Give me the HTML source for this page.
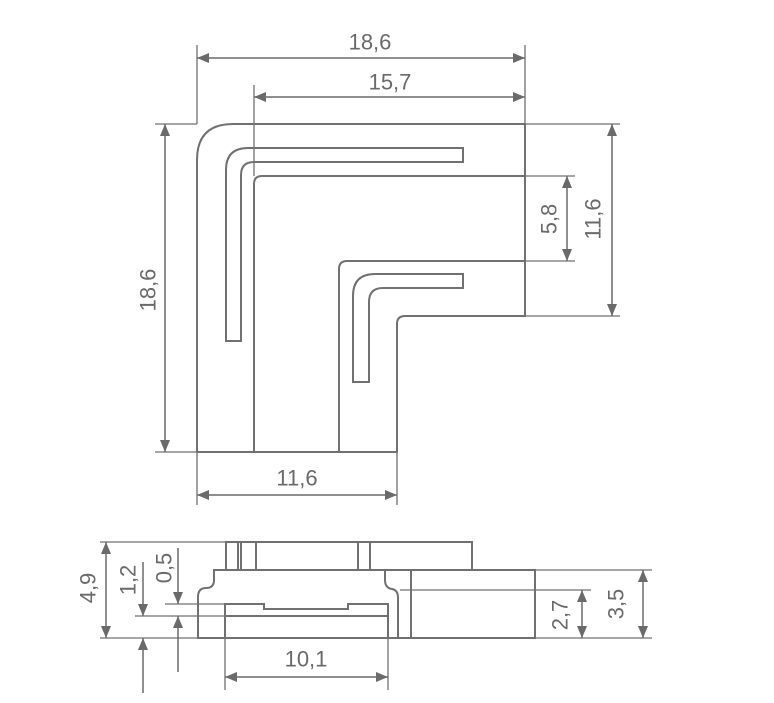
<!DOCTYPE html>
<html><head><style>
html,body{margin:0;padding:0;background:#fff;}
svg{display:block;}
text{font-family:"Liberation Sans",sans-serif;font-size:22px;fill:#6a6a6a;text-anchor:middle;dominant-baseline:central;}
</style></head><body>
<svg width="774" height="703" viewBox="0 0 774 703" xmlns="http://www.w3.org/2000/svg">
<defs>
<marker id="a" viewBox="0 0 12 10" refX="12" refY="5" markerWidth="12" markerHeight="10" markerUnits="userSpaceOnUse" orient="auto-start-reverse"><path d="M0,0L12,5L0,10z" fill="#6a6a6a"/></marker>
</defs>
<g fill="none" stroke="#717171" stroke-width="2">
<path d="M233,124H525V316H405Q397,316 397,324V452H197V160Q197,124 233,124Z"/>
<path d="M254,452V184Q254,176 262,176H525"/>
<path d="M339,452V269Q339,261 347,261H525"/>
<path d="M226,341V170Q226,148 248,148H463V162H254Q241,162 241,175V341Z"/>
<path d="M353,382V296Q353,274 375,274H463V288H383Q369,288 369,302V382Z"/>
<g stroke-width="1.3">
<path d="M197,124V45M525,124V45M254,176V85M525,124H620M525,176H575M525,261H575M525,316H620M155,124H197M155,452H197M197,452V505M397,452V505"/>
</g>
<path d="M226,570V542H472V570"/>
<path d="M238,542V570M241,542V570M256,542V570M358,542V570M370,542V570"/>
<path d="M214,570H535V638H198V597Q198,588 206,588Q214,588 214,580Z"/>
<path d="M385,570V580Q385,588 392,589Q398,590 398,598V638"/>
<path d="M411,570V638"/>
<path d="M225,638V604H264V609H348V604H388V638"/>
<path d="M225,616H388"/>
<g stroke-width="1.3">
<path d="M100,542H226M100,638H198M165,604H225M135,616H225M400,590H591M535,570H652M535,638H652M225,638V690M388,638V690"/>
</g>
</g>
<g stroke="#6a6a6a" stroke-width="1.5" fill="none" marker-start="url(#a)" marker-end="url(#a)">
<line x1="197" y1="58" x2="525" y2="58"/>
<line x1="254" y1="97" x2="525" y2="97"/>
<line x1="165" y1="124" x2="165" y2="452"/>
<line x1="567" y1="176" x2="567" y2="261"/>
<line x1="612" y1="124" x2="612" y2="316"/>
<line x1="197" y1="495" x2="397" y2="495"/>
<line x1="106" y1="542" x2="106" y2="638"/>
<line x1="225" y1="677" x2="388" y2="677"/>
<line x1="582" y1="590" x2="582" y2="638"/>
<line x1="643" y1="570" x2="643" y2="638"/>
</g>
<g stroke="#6a6a6a" stroke-width="1.5" fill="none" marker-end="url(#a)">
<line x1="143" y1="562" x2="143" y2="616"/>
<line x1="143" y1="693" x2="143" y2="638"/>
<line x1="178" y1="548" x2="178" y2="604"/>
<line x1="178" y1="672" x2="178" y2="616"/>
</g>
<text x="370" y="42">18,6</text>
<text x="390" y="82">15,7</text>
<text x="297" y="478">11,6</text>
<text transform="translate(148,290) rotate(-90)">18,6</text>
<text transform="translate(549,219) rotate(-90)">5,8</text>
<text transform="translate(593,219) rotate(-90)">11,6</text>
<text transform="translate(88,588) rotate(-90)">4,9</text>
<text transform="translate(128,580) rotate(-90)">1,2</text>
<text transform="translate(164,568) rotate(-90)">0,5</text>
<text x="306" y="659">10,1</text>
<text transform="translate(560,615) rotate(-90)">2,7</text>
<text transform="translate(616,604) rotate(-90)">3,5</text>
</svg>
</body></html>
